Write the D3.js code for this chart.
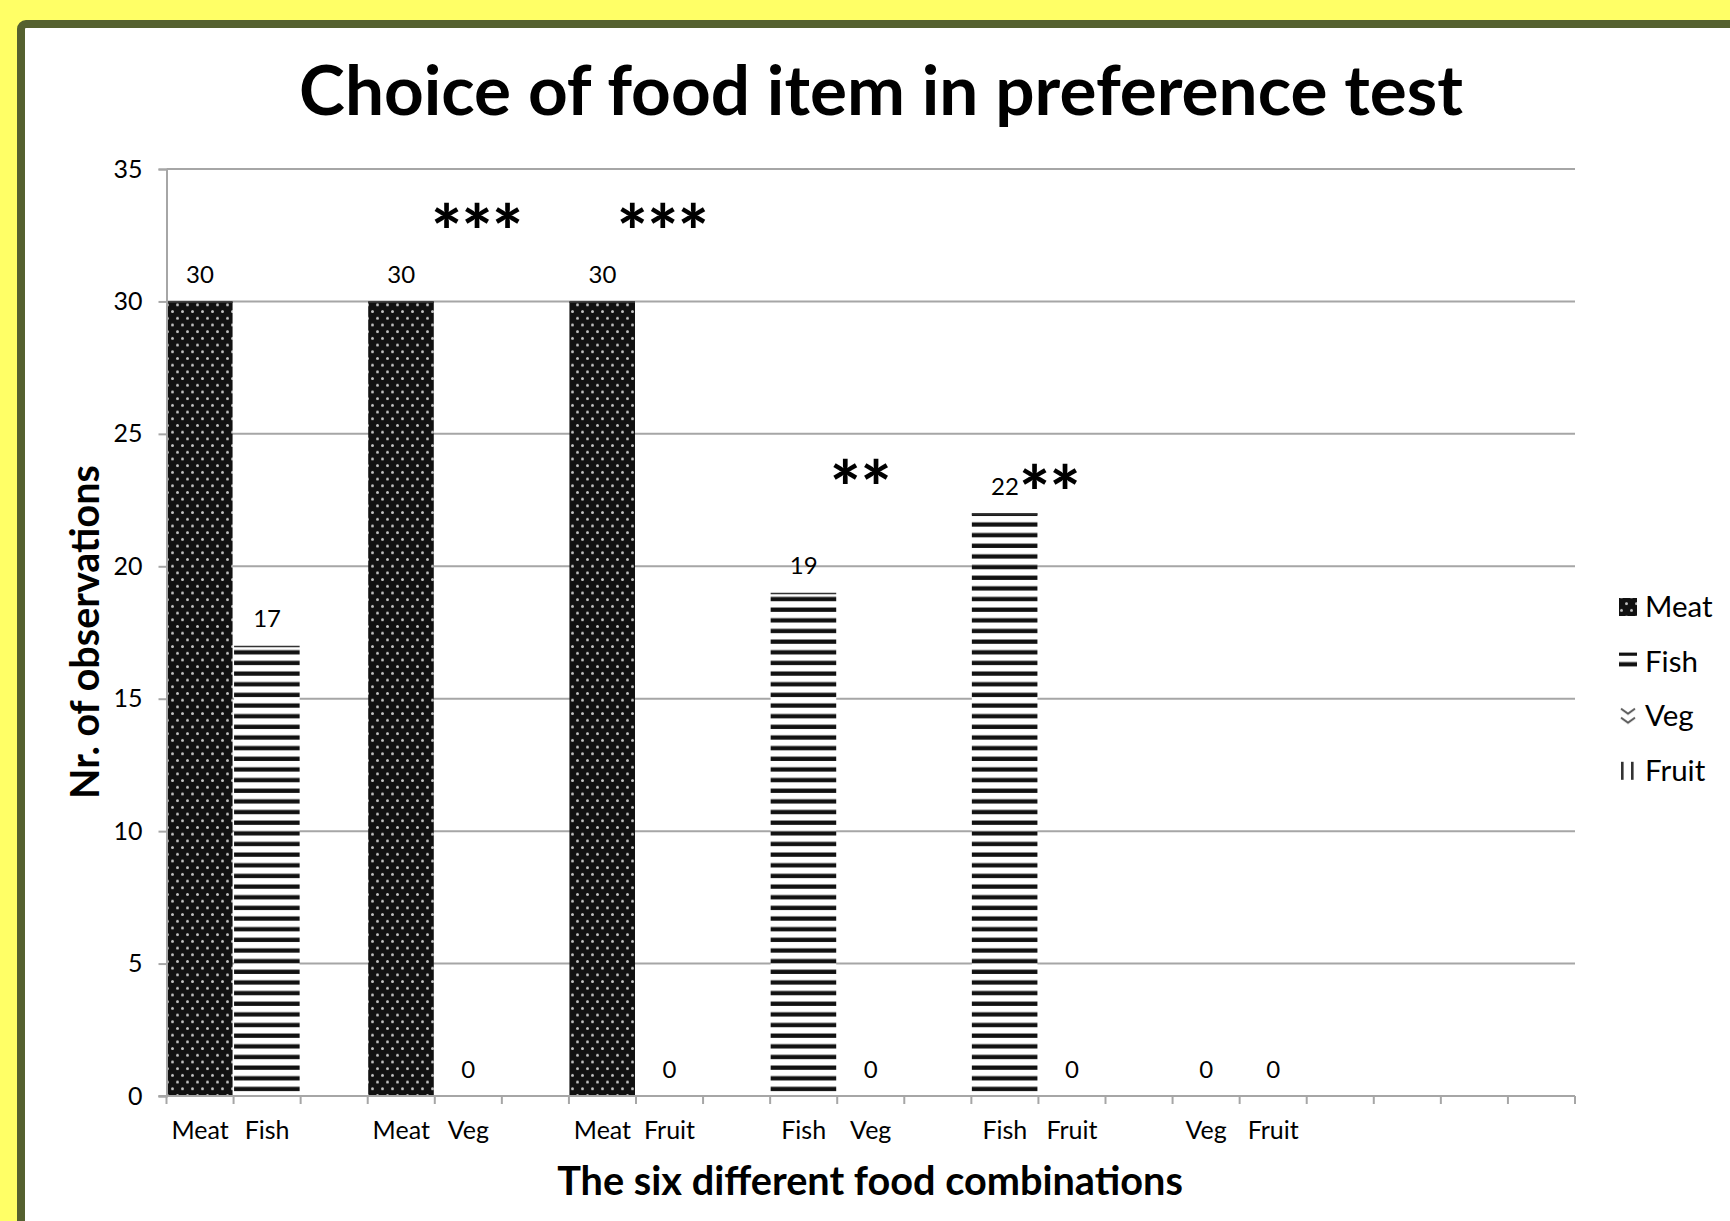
<!DOCTYPE html>
<html>
<head>
<meta charset="utf-8">
<script src="https://cdn.jsdelivr.net/npm/d3@7"></script>
<style>
  html, body { margin: 0; padding: 0; background: #ffff66; }
  svg { display: block; }
  text { font-family: "Lato", "Open Sans", sans-serif; fill: #000; }
</style>
</head>
<body>
<svg id="chart" width="1730" height="1221"></svg>
<script>
// ---------------- DATA ----------------
const categories = ["Meat","Fish","","Meat","Veg","","Meat","Fruit","","Fish","Veg","","Fish","Fruit","","Veg","Fruit","","","",""];
const values     = [30, 17, null, 30, 0, null, 30, 0, null, 19, 0, null, 22, 0, null, 0, 0, null, null, null, null];
const yTicks     = [0, 5, 10, 15, 20, 25, 30, 35];
const legendItems = ["Meat", "Fish", "Veg", "Fruit"];
// significance marks: text, anchor in category units, anchor in value units
const sigLabels = ["***", "***", "**", "**"];
const sigCatPos = [4.63, 7.40, 10.35, 13.17];
const sigValPos = [33.26, 33.26, 23.6, 23.4];
const titleText = "Choice of food item in preference test";
const xTitleText = "The six different food combinations";
const yTitleText = "Nr. of observations";

// ---------------- LAYOUT ----------------
const W = 1730, H = 1221;
const plot = { left: 166.5, right: 1575, top: 169, bottom: 1096 };
const svg = d3.select("#chart");

// frame
svg.append("rect").attr("x", 0).attr("y", 0).attr("width", W).attr("height", H).attr("fill", "#ffff66");
svg.append("rect").attr("x", 21).attr("y", 24).attr("width", W + 40).attr("height", H + 40)
  .attr("rx", 5).attr("fill", "#ffffff").attr("stroke", "#55612f").attr("stroke-width", 8);

// patterns
const defs = svg.append("defs");
const pMeat = defs.append("pattern").attr("id", "p-Meat").attr("patternUnits", "userSpaceOnUse")
  .attr("width", 10).attr("height", 13.4);
pMeat.append("rect").attr("width", 10).attr("height", 13.4).attr("fill", "#111");
pMeat.append("circle").attr("cx", 2.5).attr("cy", 3.3).attr("r", 1.5).attr("fill", "#c4c4c4");
pMeat.append("circle").attr("cx", 7.5).attr("cy", 10.0).attr("r", 1.5).attr("fill", "#c4c4c4");

const pFish = defs.append("pattern").attr("id", "p-Fish").attr("patternUnits", "userSpaceOnUse")
  .attr("width", 20).attr("height", 10.65);
pFish.append("rect").attr("width", 20).attr("height", 10.65).attr("fill", "#fff");
pFish.append("rect").attr("y", 0.5).attr("width", 20).attr("height", 4.3).attr("fill", "#111");

const pVeg = defs.append("pattern").attr("id", "p-Veg").attr("patternUnits", "userSpaceOnUse")
  .attr("width", 18).attr("height", 9);
pVeg.append("rect").attr("width", 18).attr("height", 9).attr("fill", "#fff");
pVeg.append("path").attr("d", "M2,1.5 L9,6.5 L16,1.5").attr("fill", "none").attr("stroke", "#555").attr("stroke-width", 2);

const pFruit = defs.append("pattern").attr("id", "p-Fruit").attr("patternUnits", "userSpaceOnUse")
  .attr("width", 10).attr("height", 10);
pFruit.append("rect").attr("width", 10).attr("height", 10).attr("fill", "#fff");
pFruit.append("rect").attr("x", 2).attr("width", 2.6).attr("height", 10).attr("fill", "#333");

// scales
const idx = categories.map((d, i) => i);
const x = d3.scaleBand().domain(idx).range([plot.left, plot.right]).padding(0);
const xCat = d3.scaleLinear().domain([0, categories.length]).range([plot.left, plot.right]);
const y = d3.scaleLinear().domain([0, 35]).range([plot.bottom, plot.top]);

const gridColor = "#a6a6a6";

// gridlines
svg.append("g").selectAll("line").data(yTicks.filter(t => t > 0)).join("line")
  .attr("x1", plot.left).attr("x2", plot.right)
  .attr("y1", d => y(d)).attr("y2", d => y(d))
  .attr("stroke", gridColor).attr("stroke-width", 2);

// bars
const barData = idx.filter(i => values[i] !== null && values[i] > 0);
const bars = svg.append("g").selectAll("g").data(barData).join("g");
bars.append("rect")
  .attr("x", i => x(i) + 0.5)
  .attr("width", x.bandwidth() - 1.5)
  .attr("y", i => y(values[i]))
  .attr("height", i => y(0) - y(values[i]))
  .attr("fill", i => `url(#p-${categories[i]})`);
bars.append("line")
  .attr("x1", i => x(i) + 0.5).attr("x2", i => x(i) + x.bandwidth() - 1)
  .attr("y1", i => y(values[i]) + 0.75).attr("y2", i => y(values[i]) + 0.75)
  .attr("stroke", "#333").attr("stroke-width", 1.5);

// y axis
const yAxis = d3.axisLeft(y).tickValues(yTicks).tickSize(8).tickPadding(16);
const gy = svg.append("g").attr("transform", `translate(${plot.left},0)`).call(yAxis);
gy.select(".domain").attr("stroke", gridColor).attr("stroke-width", 2);
gy.selectAll(".tick line").attr("stroke", gridColor).attr("stroke-width", 2);
gy.selectAll(".tick text").attr("font-family", "Lato").attr("font-size", 25).attr("fill", "#000");

// x axis: ticks at category boundaries
const bounds = d3.range(categories.length + 1);
const gx = svg.append("g").attr("transform", `translate(0,${plot.bottom})`);
gx.append("line").attr("x1", plot.left - 8).attr("x2", plot.right)
  .attr("stroke", gridColor).attr("stroke-width", 2);
gx.selectAll("line.tk").data(bounds).join("line").attr("class", "tk")
  .attr("x1", d => xCat(d)).attr("x2", d => xCat(d))
  .attr("y1", 0).attr("y2", 8).attr("stroke", gridColor).attr("stroke-width", 2);
gx.selectAll("text").data(idx.filter(i => categories[i] !== "")).join("text")
  .attr("x", i => x(i) + x.bandwidth() / 2).attr("y", 43)
  .attr("text-anchor", "middle").attr("font-size", 25).text(i => categories[i]);

// data labels
svg.append("g").selectAll("text").data(idx.filter(i => values[i] !== null)).join("text")
  .attr("x", i => x(i) + x.bandwidth() / 2)
  .attr("y", i => y(values[i]) - 18.5)
  .attr("text-anchor", "middle").attr("font-size", 24).text(i => values[i]);

// significance marks
const starFs = 72;
svg.append("g").selectAll("text").data(sigLabels.map((s, i) => i)).join("text")
  .attr("x", i => xCat(sigCatPos[i]))
  .attr("y", i => y(sigValPos[i]) + starFs * 0.6)
  .attr("text-anchor", "middle").attr("font-size", starFs).attr("font-weight", 900)
  .text(i => sigLabels[i]);

// fit helper
function fit(sel, target) {
  const base = +sel.attr("font-size");
  const w = sel.node().getComputedTextLength();
  sel.attr("font-size", base * target / w);
}

// title
const title = svg.append("text").attr("x", 881).attr("y", 115).attr("text-anchor", "middle")
  .attr("font-weight", 700).attr("font-size", 70).text(titleText);
fit(title, 1164);

// axis titles
const xt = svg.append("text").attr("x", 870).attr("y", 1195).attr("text-anchor", "middle")
  .attr("font-weight", 700).attr("font-size", 38).text(xTitleText);
fit(xt, 626);
const yt = svg.append("text").attr("transform", "translate(99,632) rotate(-90)")
  .attr("text-anchor", "middle").attr("font-weight", 700).attr("font-size", 38).text(yTitleText);
fit(yt, 334);

// legend
const lg = svg.append("g").selectAll("g").data(legendItems).join("g")
  .attr("transform", (d, i) => `translate(1619,${607 + i * 54.6})`);
lg.append("rect").attr("x", 0).attr("y", -9).attr("width", 18).attr("height", 18)
  .attr("fill", d => `url(#p-${d})`);
lg.append("text").attr("x", 26).attr("y", 10).attr("font-size", 29.5).text(d => d);
</script>
</body>
</html>
